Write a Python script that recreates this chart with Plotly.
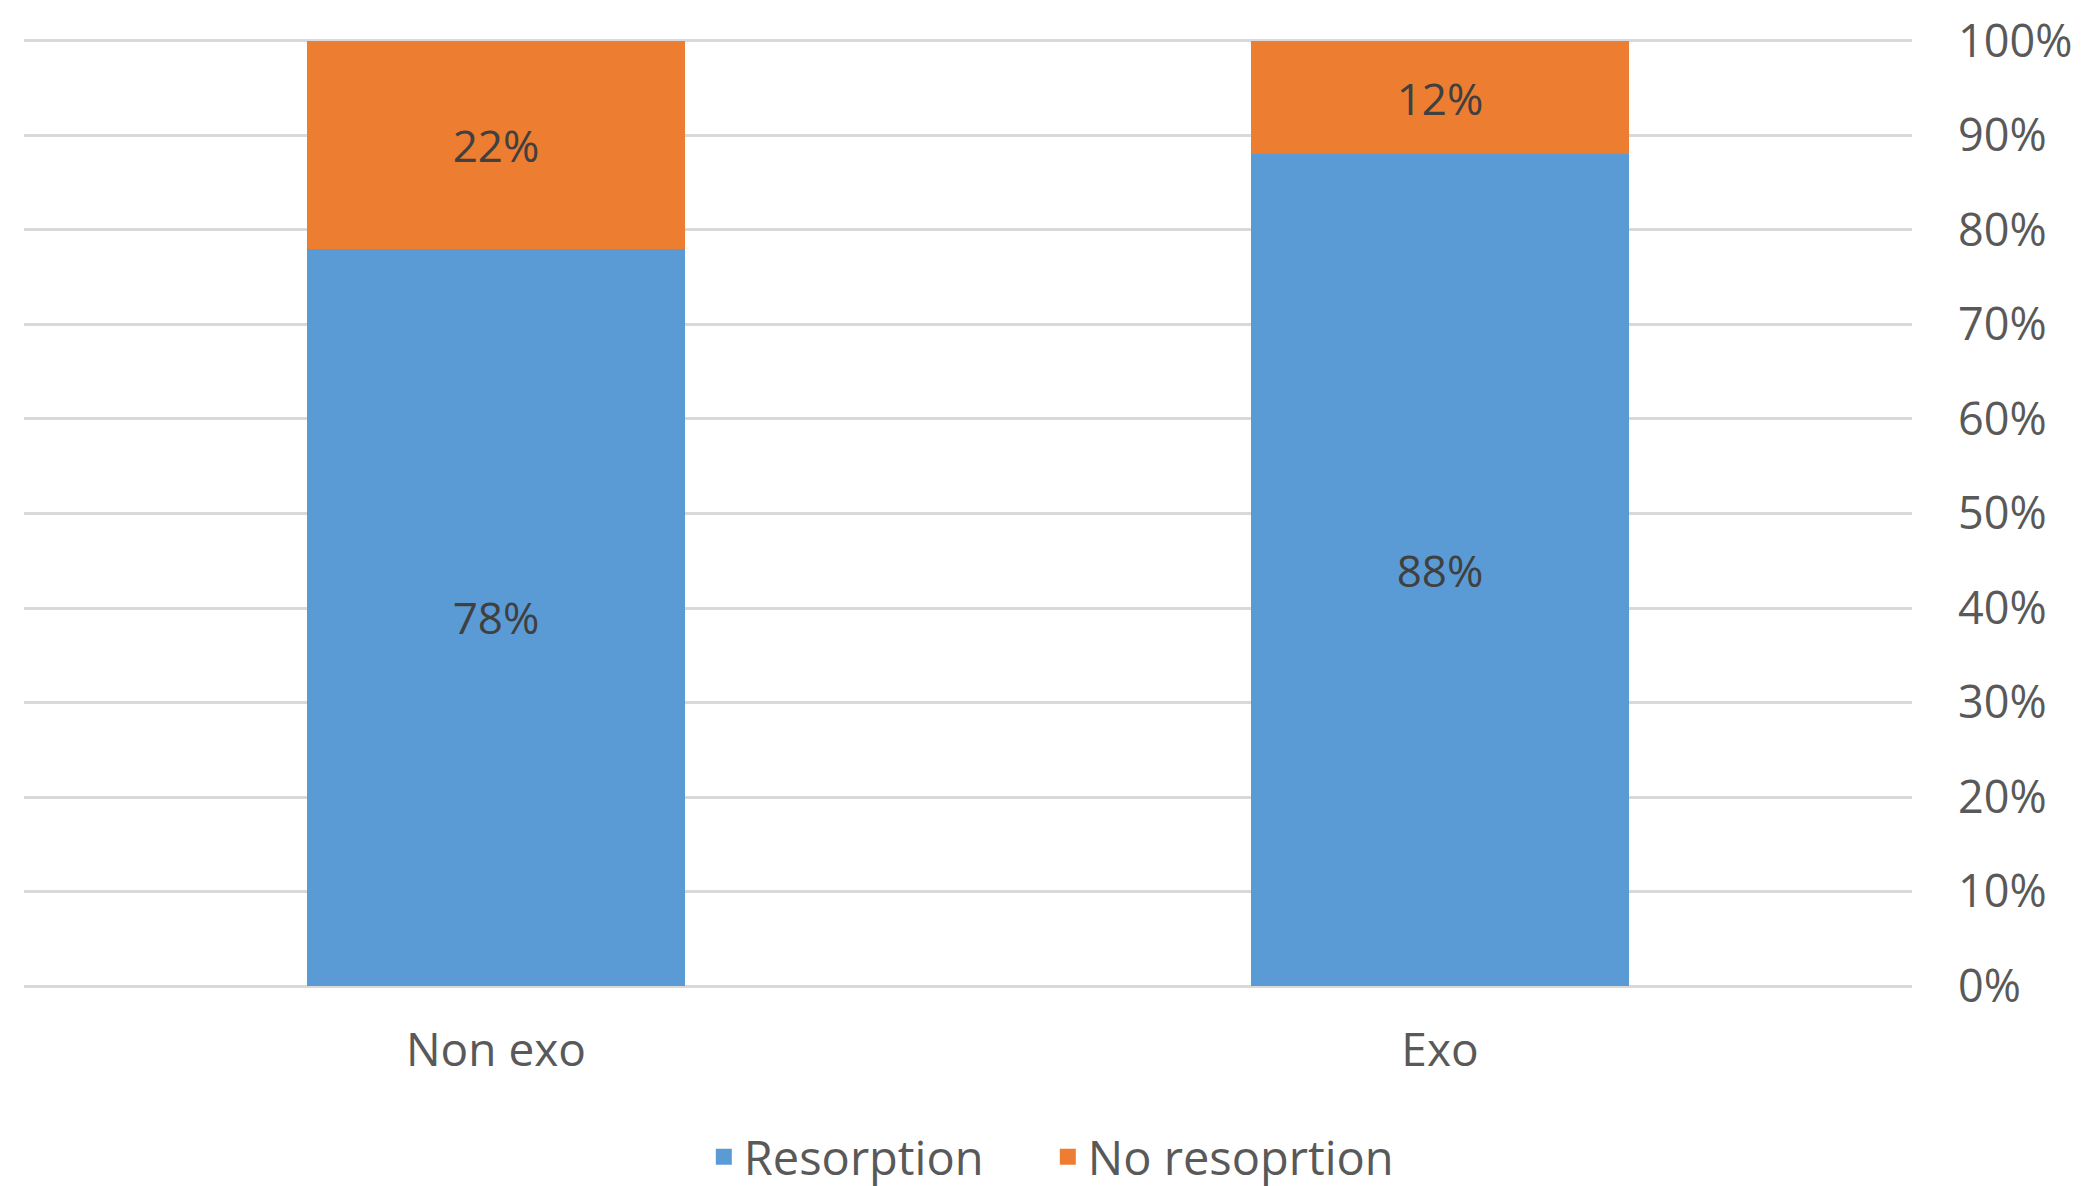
import plotly.graph_objects as go

categories = ["Non exo", "Exo"]
resorption = [78, 88]
no_resorption = [22, 12]
y_ticks = [0, 10, 20, 30, 40, 50, 60, 70, 80, 90, 100]
y_tick_labels = [f"{v}%" for v in y_ticks]
series_names = ["Resorption", "No resoprtion"]
colors = ["#5B9BD5", "#ED7D31"]

FONT = "Open Sans"
TEXT = "#595959"

fig = go.Figure()
for name, vals, col in zip(series_names, [resorption, no_resorption], colors):
    fig.add_trace(go.Bar(
        name=name, x=categories, y=vals, showlegend=False,
        marker=dict(color=col, line=dict(width=0)),
        text=[f"{v}%" for v in vals], texttemplate="%{text}",
        textposition="inside", insidetextanchor="middle",
        textfont=dict(family=FONT, size=44, color="#404040"),
    ))
for name, col in zip(series_names, colors):
    fig.add_trace(go.Scatter(
        name=name, x=[None], y=[None], mode="markers",
        marker=dict(symbol="square", size=30, color=col),
        showlegend=True,
    ))

fig.update_layout(
    barmode="stack",
    bargap=0.6,
    width=2088, height=1186,
    margin=dict(l=16, r=184, t=31, b=206, autoexpand=False),
    paper_bgcolor="white", plot_bgcolor="white",
    font=dict(family=FONT, size=44, color=TEXT),
    uniformtext=dict(mode=False),
    legend=dict(
        orientation="h", xref="container", x=0.498, xanchor="center",
        yref="container", y=0.031, yanchor="middle",
        font=dict(family=FONT, size=47, color=TEXT),
        itemwidth=30, entrywidth=299, entrywidthmode="pixels",
        traceorder="normal", tracegroupgap=0,
    ),
    showlegend=True,
)
fig.update_xaxes(
    showgrid=False, showline=False, zeroline=False, automargin=False,
    ticks="", ticklabelstandoff=31,
    tickfont=dict(family=FONT, size=46, color=TEXT),
)
fig.update_yaxes(
    side="right", range=[-0.2, 100.2], tickvals=y_ticks, ticktext=y_tick_labels,
    showgrid=True, gridcolor="#D9D9D9", gridwidth=3, automargin=False,
    zeroline=False, showline=False, ticks="",
    ticklabelstandoff=45,
    tickfont=dict(family=FONT, size=45, color=TEXT),
)

fig.write_html("out.html")
